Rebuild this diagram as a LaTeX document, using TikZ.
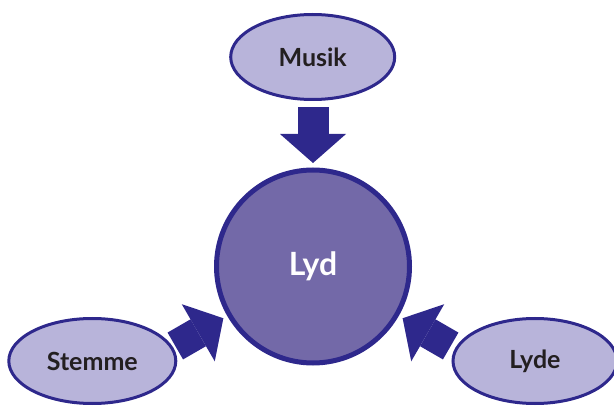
\documentclass[tikz,border=0pt]{standalone}
\usepackage{fontspec}
\setmainfont{Lato}[BoldFont=* Bold]
\usepackage{xcolor}
\usepackage{tikz}
\usetikzlibrary{arrows.meta,shapes.geometric}

\definecolor{lydink}{HTML}{2E288C}
\definecolor{lydfill}{HTML}{7369A8}
\definecolor{bubblefill}{HTML}{B8B4DA}
\definecolor{textdark}{HTML}{231F20}

\begin{document}
\begin{tikzpicture}[
  x=1pt,y=1pt,
  hub/.style={circle,draw=lydink,line width=5pt,fill=lydfill,minimum size=193pt,inner sep=0pt,
    text=white,font=\bfseries\fontsize{32}{38}\selectfont},
  bubble/.style={ellipse,draw=lydink,line width=3pt,fill=bubblefill,minimum width=164pt,minimum height=85pt,
    inner sep=0pt,text=textdark,font=\bfseries\fontsize{25}{30}\selectfont},
  fat/.style={draw=lydink,line width=31pt,-{Triangle[length=29pt,width=66pt,line width=0pt]},shorten >=4.5pt}
]
\useasboundingbox (0,0) rectangle (614,405);
\node[hub] (lyd) at (313,138.5) {Lyd};
\node[bubble] (musik) at (312.7,348) {Musik};
\node[bubble,minimum width=167pt] (stemme) at (92.3,44) {Stemme};
\node[bubble] (lyde) at (535,44) {Lyde};

\coordinate (tmusik) at ([shift={(90:159)}]lyd.center);
\coordinate (tstemme) at ([shift={(210:159)}]lyd.center);
\coordinate (tlyde) at ([shift={(330:159)}]lyd.center);

\draw[fat] (tmusik) -- (lyd);
\draw[fat] (tstemme) -- (lyd);
\draw[fat] (tlyde) -- (lyd);
\end{tikzpicture}
\end{document}
